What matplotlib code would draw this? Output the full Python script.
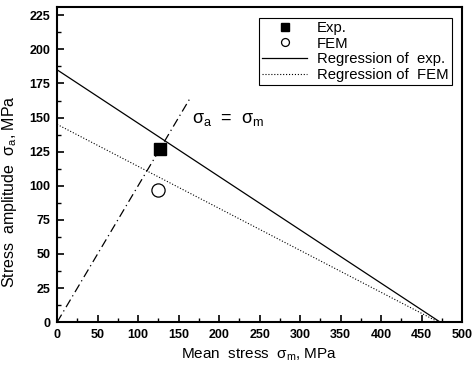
import matplotlib.pyplot as plt
from matplotlib.ticker import MultipleLocator

plt.rcParams['font.family'] = ['Liberation Sans', 'DejaVu Sans']
plt.rcParams['mathtext.fontset'] = 'custom'
plt.rcParams['mathtext.rm'] = 'Liberation Sans'
plt.rcParams['mathtext.it'] = 'Liberation Sans'

# data
exp_x = [127]
exp_y = [127]
fem_x = [125]
fem_y = [97]
reg_exp_x = [0, 473]
reg_exp_y = [185, 0]
reg_fem_x = [0, 471]
reg_fem_y = [145, 0]
eq_x = [0, 165]
eq_y = [0, 165]

fig = plt.figure(figsize=(4.72, 3.72), dpi=100)
ax = fig.add_axes([0.121, 0.134, 0.858, 0.847])

ax.plot(exp_x, exp_y, 's', color='black', markersize=8.5, label='Exp.')
ax.plot(fem_x, fem_y, 'o', mfc='white', mec='black', markersize=9.5, mew=0.9, label='FEM')
ax.plot(reg_exp_x, reg_exp_y, '-', color='black', lw=0.9, label='Regression of  exp.')
ax.plot(reg_fem_x, reg_fem_y, ':', color='black', lw=0.8, label='Regression of  FEM')
ax.plot(eq_x, eq_y, color='black', lw=0.9, linestyle=(0, (7, 3, 1, 3)))

ax.text(167, 146, r'$\sigma_a$  =  $\sigma_m$', fontsize=13)

ax.set_xlim(0, 500)
ax.set_ylim(0, 231)
ax.xaxis.set_major_locator(MultipleLocator(50))
ax.xaxis.set_minor_locator(MultipleLocator(25))
ax.yaxis.set_major_locator(MultipleLocator(25))
ax.yaxis.set_minor_locator(MultipleLocator(12.5))
ax.tick_params(which='both', direction='in', top=False, right=False)
ax.tick_params(which='major', length=5, width=1.2, labelsize=9, pad=5)
ax.tick_params(which='minor', length=3, width=1.0)
for lab in ax.get_xticklabels() + ax.get_yticklabels():
    lab.set_fontweight('bold')
for sp in ax.spines.values():
    sp.set_linewidth(1.5)

ax.set_xlabel(r'Mean  stress  $\sigma_m$, MPa', fontsize=11)
ax.set_ylabel(r'Stress  amplitude  $\sigma_a$, MPa', fontsize=11.5)
ax.yaxis.set_label_coords(-0.095, 0.415)

leg = ax.legend(loc='upper right', bbox_to_anchor=(0.982, 0.975), fontsize=10.7,
                fancybox=False, edgecolor='black', framealpha=1, markerscale=0.6,
                handlelength=3.0, borderpad=0.2, labelspacing=0.12, handletextpad=0.7,
                borderaxespad=0.2)
leg.get_frame().set_linewidth(0.8)

fig.savefig('out.png', dpi=100)
